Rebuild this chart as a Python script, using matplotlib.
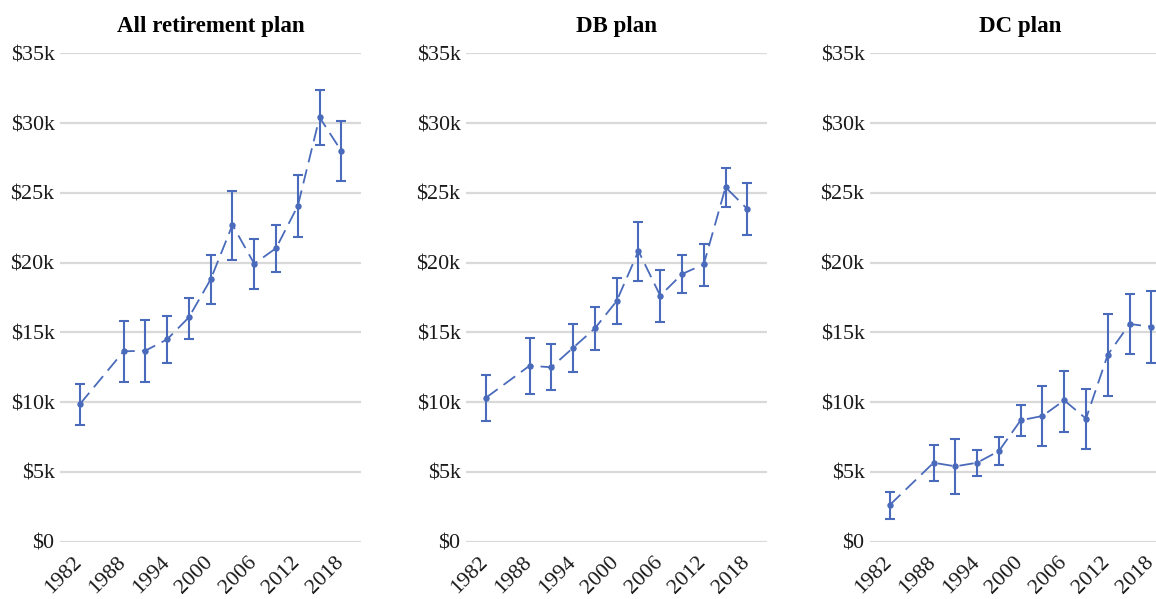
import matplotlib.pyplot as plt
from matplotlib.ticker import FuncFormatter
from matplotlib.transforms import ScaledTranslation

# survey years and mean values (thousands of dollars) with error bounds
years = [1983, 1989, 1992, 1995, 1998, 2001, 2004, 2007, 2010, 2013, 2016, 2019]

all_mean = [9.87, 13.64, 13.69, 14.50, 16.08, 18.80, 22.70, 19.92, 21.03, 24.06, 30.41, 28.00]
all_low = [8.39, 11.47, 11.42, 12.83, 14.53, 17.01, 20.21, 18.11, 19.35, 21.84, 28.41, 25.85]
all_high = [11.32, 15.82, 15.91, 16.20, 17.49, 20.55, 25.15, 21.72, 22.67, 26.30, 32.39, 30.13]

db_mean = [10.32, 12.61, 12.50, 13.90, 15.29, 17.25, 20.83, 17.63, 19.18, 19.88, 25.40, 23.84]
db_low = [8.67, 10.56, 10.85, 12.18, 13.76, 15.60, 18.68, 15.77, 17.82, 18.35, 23.96, 21.96]
db_high = [11.92, 14.62, 14.17, 15.58, 16.82, 18.88, 22.91, 19.47, 20.55, 21.36, 26.78, 25.68]

dc_mean = [2.65, 5.66, 5.40, 5.66, 6.50, 8.70, 9.01, 10.13, 8.82, 13.40, 15.60, 15.41]
dc_low = [1.65, 4.37, 3.44, 4.73, 5.47, 7.60, 6.86, 7.88, 6.64, 10.46, 13.47, 12.83]
dc_high = [3.56, 6.91, 7.36, 6.55, 7.50, 9.77, 11.14, 12.23, 10.97, 16.30, 17.75, 17.99]

titles = ["All retirement plan", "DB plan", "DC plan"]
tick_years = [1982, 1988, 1994, 2000, 2006, 2012, 2018]
y_ticks = [0, 5, 10, 15, 20, 25, 30, 35]

plt.rcParams['font.family'] = ['Liberation Serif', 'DejaVu Serif']

blue = "#4a6bbb"

fig = plt.figure(figsize=(11.56, 5.99), dpi=100)

lefts = [60, 466, 870]
panels = [(all_mean, all_low, all_high), (db_mean, db_low, db_high), (dc_mean, dc_low, dc_high)]

for left, title, (mean, low, high) in zip(lefts, titles, panels):
    ax = fig.add_axes([left / 1156, 1 - 541.7 / 599, 301 / 1156, 488.4 / 599])
    err = [[m - l for m, l in zip(mean, low)], [h - m for m, h in zip(mean, high)]]
    ax.errorbar(years, mean, yerr=err, color=blue, lw=1.3, ls=(0, (8, 4)),
                marker='o', ms=3.6, elinewidth=1.5, capsize=3.8, capthick=1.5, zorder=3)
    ax.set_xlim(1980.24, 2021.71)
    ax.set_ylim(0, 35)
    ax.set_yticks(y_ticks)
    ax.yaxis.set_major_formatter(FuncFormatter(lambda v, p: "$0" if v == 0 else f"${v:.0f}k"))
    ax.set_xticks(tick_years)
    ax.set_xticklabels([str(y) for y in tick_years], rotation=45, ha='right',
                       va='top', rotation_mode='anchor')
    # nudge the rotated year labels a little to the right
    for lab in ax.get_xticklabels():
        lab.set_transform(lab.get_transform() + ScaledTranslation(5 / 100, 0, fig.dpi_scale_trans))
    ax.grid(axis='y', color="#d9d9d9", lw=1.6)
    ax.set_axisbelow(True)
    for s in ax.spines.values():
        s.set_visible(False)
    ax.tick_params(axis='both', length=0, labelsize=15.8, colors="#1a1a1a")
    ax.tick_params(axis='y', pad=4)
    ax.tick_params(axis='x', pad=8)
    ax.set_title(title, fontsize=16.5, fontweight='bold', pad=15)

fig.savefig("out.png", dpi=100)
